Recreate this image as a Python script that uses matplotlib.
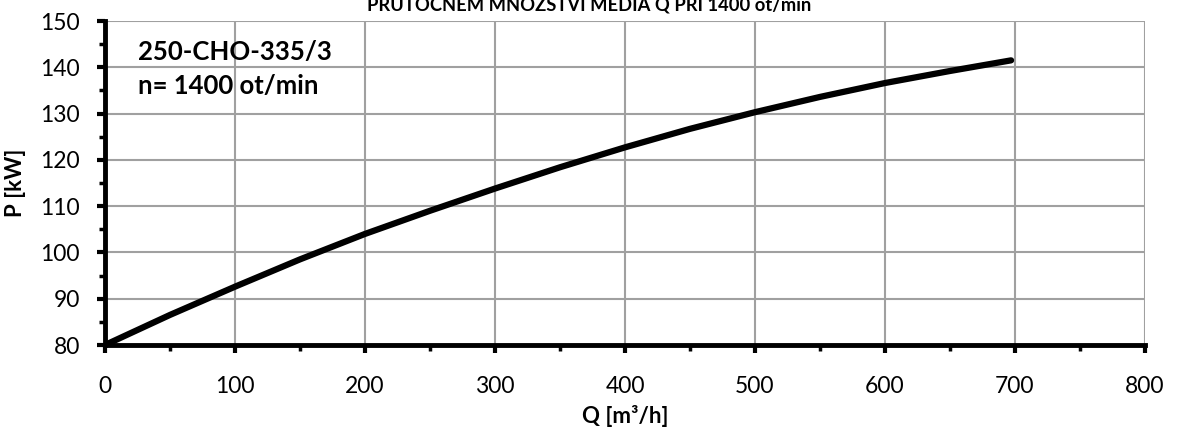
import matplotlib.pyplot as plt
import numpy as np
from matplotlib.ticker import MultipleLocator

plt.rcParams['font.family'] = ['Lato', 'DejaVu Sans']

# flow Q [m3/h] and power P [kW]
Q = [0, 50, 100, 150, 200, 250, 300, 350, 400, 450, 500, 550, 600, 650, 697]
P = [80, 86.5, 92.6, 98.5, 104.0, 109.0, 113.8, 118.4, 122.7, 126.7, 130.3, 133.6, 136.6, 139.2, 141.5]

title = 'PRŮTOČNÉM MNOŽSTVÍ MÉDIA Q PŘI 1400 ot/min'
pump_label = '250-CHO-335/3\nn= 1400 ot/min'

fig = plt.figure(figsize=(11.78, 4.42), dpi=100)
ax = fig.add_axes([105/1178, 1 - 345/442, 1040/1178, 324/442])

ax.plot(Q, P, color='black', linewidth=4.5, solid_capstyle='round', zorder=3)

ax.set_xlim(0, 800)
ax.set_ylim(80, 150)
ax.xaxis.set_major_locator(MultipleLocator(100))
ax.xaxis.set_minor_locator(MultipleLocator(50))
ax.yaxis.set_major_locator(MultipleLocator(10))
ax.yaxis.set_minor_locator(MultipleLocator(5))
ax.grid(True, which='major', color='#a0a0a0', linewidth=1.5)
ax.set_axisbelow(True)

for s in ['top', 'right']:
    ax.spines[s].set_visible(False)
for s in ['left', 'bottom']:
    ax.spines[s].set_linewidth(3.5)
ax.tick_params(which='major', direction='out', length=6, width=3, labelsize=16.5)
ax.tick_params(which='minor', direction='out', length=4, width=2.5)
ax.tick_params(axis='y', pad=12)
ax.tick_params(axis='x', pad=16)

ax.set_xlabel('Q [m³/h]', fontsize=16, fontweight='bold', labelpad=6)
ax.set_ylabel('P [kW]', fontsize=16, fontweight='bold', labelpad=10)

ax.text(0.032, 0.94, pump_label, transform=ax.transAxes, fontsize=18.5,
        fontweight='bold', va='top', ha='left', linespacing=1.5)

fig.text(0.5, 1 - 3/442, title, ha='center', va='center', fontsize=13.2, fontweight='bold')

fig.savefig('out.png', dpi=100)
